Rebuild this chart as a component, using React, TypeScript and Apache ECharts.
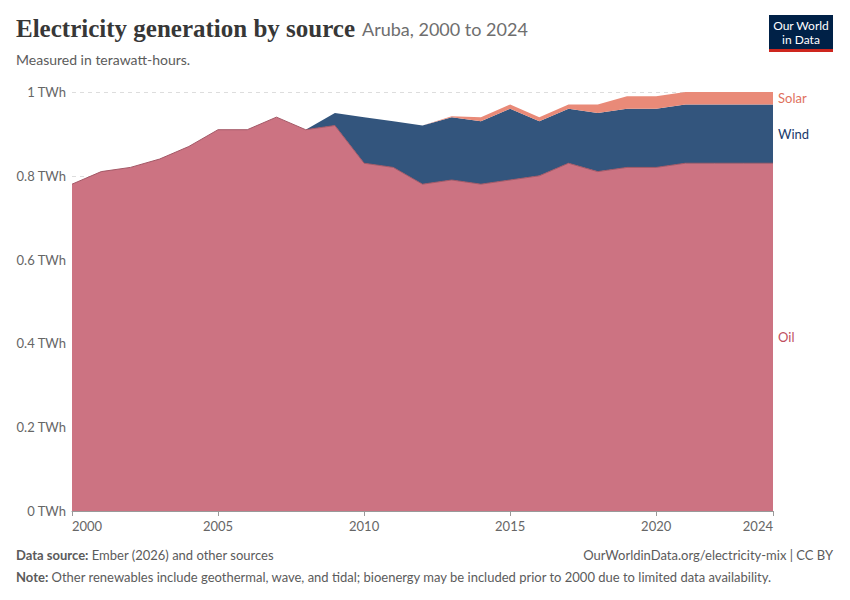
import { useEffect, useRef } from "react";
import * as echarts from "echarts";

const years = [
  "2000", "2001", "2002", "2003", "2004", "2005", "2006", "2007", "2008",
  "2009", "2010", "2011", "2012", "2013", "2014", "2015", "2016", "2017",
  "2018", "2019", "2020", "2021", "2022", "2023", "2024",
];

const oil = [
  0.78, 0.81, 0.82, 0.84, 0.87, 0.91, 0.91, 0.94, 0.91, 0.92, 0.83, 0.82,
  0.78, 0.79, 0.78, 0.79, 0.8, 0.83, 0.81, 0.82, 0.82, 0.83, 0.83, 0.83, 0.83,
];

const wind = [
  0, 0, 0, 0, 0, 0, 0, 0, 0, 0.03, 0.11, 0.11, 0.14, 0.15, 0.15, 0.17, 0.13,
  0.13, 0.14, 0.14, 0.14, 0.14, 0.14, 0.14, 0.14,
];

const solar = [
  0, 0, 0, 0, 0, 0, 0, 0, 0, 0, 0, 0, 0, 0.002, 0.01, 0.01, 0.01, 0.01, 0.02,
  0.03, 0.03, 0.03, 0.03, 0.03, 0.03,
];

const shownYears = ["2000", "2005", "2010", "2015", "2020", "2024"];

const OIL = "#cc7382";
const WIND = "#33557d";
const SOLAR = "#e98a78";

export default function App() {
  const chartRef = useRef<HTMLDivElement>(null);

  useEffect(() => {
    document.body.style.margin = "0";
    if (!chartRef.current) return;
    const chart = echarts.init(chartRef.current, null, { renderer: "svg" });

    const showYear = (_i: number, v: string) => shownYears.includes(v);

    const option: echarts.EChartsOption = {
      animation: false,
      textStyle: { fontFamily: "Lato" },
      grid: { left: 72, right: 77, top: 92, bottom: 89 },
      xAxis: {
        type: "category",
        data: years,
        boundaryGap: false,
        axisLine: { lineStyle: { color: "#999" } },
        axisTick: { interval: showYear, length: 5, lineStyle: { color: "#999" } },
        axisLabel: {
          interval: showYear,
          color: "#666",
          fontSize: 13,
          margin: 8,
          alignMinLabel: "left",
          alignMaxLabel: "right",
        } as any,
      },
      yAxis: {
        type: "value",
        min: 0,
        max: 1,
        interval: 0.2,
        axisLabel: {
          color: "#666",
          fontSize: 13,
          margin: 6,
          formatter: (v: number) => `${Math.round(v * 10) / 10} TWh`,
        },
        splitLine: { lineStyle: { color: "#ddd", type: [4, 4] } },
      },
      series: [
        {
          name: "Oil",
          type: "line",
          stack: "total",
          data: oil,
          symbol: "none",
          lineStyle: { color: "#a35866", width: 1 },
          areaStyle: { color: OIL, opacity: 1 },
        },
        {
          name: "Wind",
          type: "line",
          stack: "total",
          data: wind,
          symbol: "none",
          lineStyle: { width: 0 },
          areaStyle: { color: WIND, opacity: 1 },
        },
        {
          name: "Solar",
          type: "line",
          stack: "total",
          data: solar,
          symbol: "none",
          lineStyle: { width: 0 },
          areaStyle: { color: SOLAR, opacity: 1 },
        },
      ],
    };

    chart.setOption(option);

    // labels at the middle of each band in the last year
    const last = years.length - 1;
    const mid = (lo: number, hi: number) =>
      chart.convertToPixel({ gridIndex: 0 }, [years[last], (lo + hi) / 2]);
    const oilEnd = oil[last];
    const windEnd = oilEnd + wind[last];
    const solarEnd = windEnd + solar[last];
    const pOil = mid(0, oilEnd);
    const pWind = mid(oilEnd, windEnd);
    const pSolar = mid(windEnd, solarEnd);
    const side = (p: number[], text: string, color: string) => ({
      type: "text",
      x: p[0] + 5,
      y: p[1],
      style: { text, fill: color, fontSize: 13, fontFamily: "Lato", verticalAlign: "middle" },
    });

    const logoText = (y: number, text: string) => ({
      type: "text",
      x: 32,
      y,
      style: {
        text,
        fill: "#fff",
        fontFamily: "Lato",
        fontSize: 12,
        align: "center",
        verticalAlign: "middle",
      },
    });

    chart.setOption({
      graphic: [
        {
          type: "text",
          left: 16,
          top: 16,
          style: {
            text: "{t|Electricity generation by source}{s|Aruba, 2000 to 2024}",
            rich: {
              t: { fontFamily: "Liberation Serif", fontWeight: "bold", fontSize: 25, fill: "#373737" },
              s: { fontFamily: "Lato", fontSize: 18, fill: "#6e6e6e", padding: [0, 0, 0, 7] },
            },
          },
        },
        {
          type: "text",
          left: 16,
          top: 52,
          style: { text: "Measured in terawatt-hours.", fontFamily: "Lato", fontSize: 14, fill: "#5b5b5b" },
        },
        {
          type: "group",
          left: 769,
          top: 15,
          children: [
            { type: "rect", shape: { x: 0, y: 0, width: 64, height: 34 }, style: { fill: "#002147" } },
            { type: "rect", shape: { x: 0, y: 34, width: 64, height: 3 }, style: { fill: "#ce261e" } },
            logoText(10, "Our World"),
            logoText(24, "in Data"),
          ],
        },
        side(pSolar, "Solar", "#e0715d"),
        side(pWind, "Wind", "#18396b"),
        side(pOil, "Oil", "#c0505f"),
        {
          type: "text",
          left: 16,
          top: 548,
          style: {
            text: "{b|Data source:} Ember (2026) and other sources",
            fontFamily: "Lato",
            fontSize: 13,
            fill: "#5b5b5b",
            rich: { b: { fontWeight: "bold", fontFamily: "Lato", fontSize: 13, fill: "#5b5b5b" } },
          },
        },
        {
          type: "text",
          right: 17,
          top: 548,
          style: {
            text: "OurWorldinData.org/electricity-mix | CC BY",
            fontFamily: "Lato",
            fontSize: 13,
            fill: "#5b5b5b",
          },
        },
        {
          type: "text",
          left: 16,
          top: 570,
          style: {
            text: "{b|Note:} Other renewables include geothermal, wave, and tidal; bioenergy may be included prior to 2000 due to limited data availability.",
            fontFamily: "Lato",
            fontSize: 13,
            fill: "#5b5b5b",
            rich: { b: { fontWeight: "bold", fontFamily: "Lato", fontSize: 13, fill: "#5b5b5b" } },
          },
        },
      ],
    } as any);

    return () => {
      chart.dispose();
    };
  }, []);

  return <div ref={chartRef} style={{ width: 850, height: 600 }} />;
}
